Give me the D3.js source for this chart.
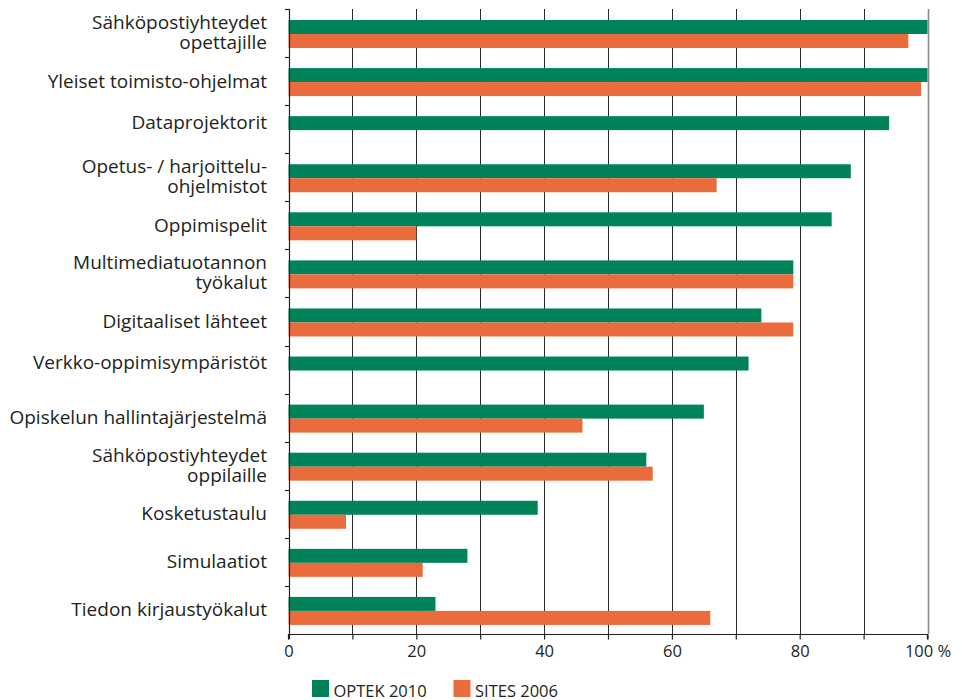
<!DOCTYPE html>
<html>
<head>
<meta charset="utf-8">
<script src="https://cdn.jsdelivr.net/npm/d3@7"></script>
<style>
  html, body { margin: 0; padding: 0; background: #fff; }
  svg { display: block; }
  text { font-family: "Open Sans", "Noto Sans", sans-serif; fill: #231f20; }
</style>
</head>
<body>
<svg id="chart" width="962" height="700"></svg>
<script>
// Category labels (line breaks marked with \n)
const categories = [
  "Sähköpostiyhteydet\nopettajille",
  "Yleiset toimisto-ohjelmat",
  "Dataprojektorit",
  "Opetus- / harjoittelu-\nohjelmistot",
  "Oppimispelit",
  "Multimediatuotannon\ntyökalut",
  "Digitaaliset lähteet",
  "Verkko-oppimisympäristöt",
  "Opiskelun hallintajärjestelmä",
  "Sähköpostiyhteydet\noppilaille",
  "Kosketustaulu",
  "Simulaatiot",
  "Tiedon kirjaustyökalut"
];

const seriesNames = ["OPTEK 2010", "SITES 2006"];

// Percentages per category; null = no value for that survey
const optek2010 = [100, 100, 94, 88, 85, 79, 74, 72, 65, 56, 39, 28, 23];
const sites2006 = [97, 99, null, 67, 20, 79, 79, null, 46, 57, 9, 21, 66];

const xTicks = [0, 10, 20, 30, 40, 50, 60, 70, 80, 90, 100];
const xTickLabels = ["0", "", "20", "", "40", "", "60", "", "80", "", "100 %"];

const colors = ["#00835a", "#ea6b3b"];

const svg = d3.select("#chart");
const margin = { left: 288.5, right: 34.5, top: 9, bottom: 66 };
const W = 962, H = 700;

const x = d3.scaleLinear().domain([0, 100]).range([margin.left, W - margin.right]);
const y = d3.scaleBand().domain(d3.range(categories.length)).range([margin.top, H - margin.bottom]).padding(0);
const inner = d3.scaleBand().domain(seriesNames).range([11, 39]).padding(0);

// Vertical gridlines
svg.append("g")
  .selectAll("line")
  .data(xTicks.filter(t => t > 0))
  .join("line")
  .attr("x1", d => Math.round(x(d)) + 0.5)
  .attr("x2", d => Math.round(x(d)) + 0.5)
  .attr("y1", margin.top)
  .attr("y2", H - margin.bottom)
  .attr("stroke", d => d === 100 ? "#8a8a8a" : "#2a2a2a")
  .attr("stroke-width", d => d === 100 ? 1.6 : 1);

// Bars
const rows = categories.map((c, i) => ({ i, values: [optek2010[i], sites2006[i]] }));
const g = svg.append("g");
rows.forEach(r => {
  r.values.forEach((v, s) => {
    if (v == null) return;
    g.append("rect")
      .attr("x", x(0))
      .attr("y", y(r.i) + inner(seriesNames[s]))
      .attr("width", x(v) - x(0))
      .attr("height", inner.bandwidth())
      .attr("fill", colors[s]);
  });
});

// Y axis line and band ticks
const yAxisX = Math.round(x(0)) + 0.5;
svg.append("line")
  .attr("x1", yAxisX).attr("x2", yAxisX)
  .attr("y1", margin.top).attr("y2", H - margin.bottom + 5)
  .attr("stroke", "#231f20").attr("stroke-width", 1.2);
svg.append("g")
  .selectAll("line")
  .data(d3.range(categories.length))
  .join("line")
  .attr("x1", yAxisX - 4.5).attr("x2", yAxisX)
  .attr("y1", d => Math.round(y(d)) + 0.5)
  .attr("y2", d => Math.round(y(d)) + 0.5)
  .attr("stroke", "#231f20").attr("stroke-width", 1.2);

// X axis
const xAxis = d3.axisBottom(x)
  .tickValues(xTicks)
  .tickFormat((d, i) => xTickLabels[i])
  .tickSize(5)
  .tickPadding(6);
const ax = svg.append("g")
  .attr("transform", `translate(0,${H - margin.bottom + 0.5})`)
  .call(xAxis);
ax.select(".domain").attr("stroke", "#231f20").attr("stroke-width", 1.2)
  .attr("d", `M${x(0)},5V0H${x(100)}V5`);
ax.selectAll(".tick line").attr("stroke", "#231f20").attr("stroke-width", 1.2);
ax.selectAll(".tick text")
  .attr("font-family", "'Open Sans', 'Noto Sans', sans-serif")
  .attr("font-size", 16.5)
  .attr("fill", "#231f20");

// Category labels, centred on the drawn bars
const labelX = 267;
categories.forEach((c, i) => {
  const present = [optek2010[i], sites2006[i]].map((v, s) => v == null ? null : s).filter(s => s != null);
  const top = y(i) + inner(seriesNames[present[0]]);
  const bottom = y(i) + inner(seriesNames[present[present.length - 1]]) + inner.bandwidth();
  const cy = (top + bottom) / 2;
  const lines = c.split("\n");
  const t = svg.append("text")
    .attr("x", labelX)
    .attr("text-anchor", "end")
    .attr("font-size", 19);
  if (lines.length === 1) {
    t.append("tspan").attr("x", labelX).attr("y", cy + 5.5).text(lines[0]);
  } else {
    t.append("tspan").attr("x", labelX).attr("y", cy - 5).text(lines[0]);
    t.append("tspan").attr("x", labelX).attr("y", cy + 15).text(lines[1]);
  }
});

// Legend
const legend = svg.append("g").attr("transform", "translate(312,680)");
const legendX = [0, 141.5];
seriesNames.forEach((name, s) => {
  const lg = legend.append("g").attr("transform", `translate(${legendX[s]},0)`);
  lg.append("rect").attr("width", 17).attr("height", 17).attr("fill", colors[s]);
  lg.append("text").attr("x", 21.5).attr("y", 16.5).attr("font-size", 16.5).text(name);
});
</script>
</body>
</html>
